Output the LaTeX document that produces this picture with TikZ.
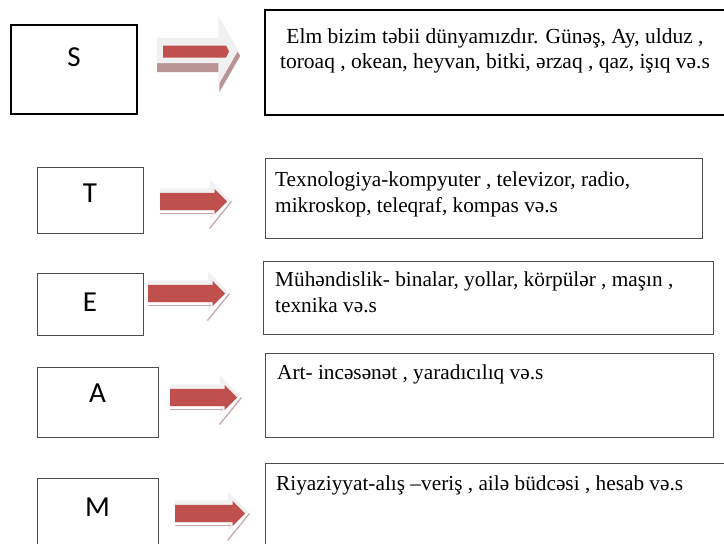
\documentclass[tikz,border=0pt]{standalone}
\usepackage{fontspec}
\setmainfont{Liberation Serif}
\newfontfamily\lblfont{Carlito}
\usetikzlibrary{shapes.arrows}
\definecolor{arrred}{HTML}{C0504D}
\definecolor{arrshade}{HTML}{B89494}
\definecolor{arrghost}{HTML}{F1F1F1}
\tikzset{
  lblbox/.style={rectangle, draw=black!70, line width=1pt, inner sep=0pt},
  lbltxt/.style={font=\lblfont\fontsize{29}{30}\selectfont, inner sep=0pt},
  txtbox/.style={rectangle, draw=black!70, line width=1pt, inner sep=0pt},
  bodytxt/.style={font=\fontsize{21.3}{25.5}\selectfont, align=left, inner sep=0pt, anchor=north west},
  redarr/.style={single arrow, fill=arrred, inner xsep=0pt, inner ysep=8.5pt,
    single arrow head extend=4pt, anchor=tail},
  ghostarr/.style={redarr, fill=arrghost, inner ysep=11pt, single arrow head extend=9pt},
  shadeline/.style={draw=arrshade!80, line width=1.3pt},
}

\begin{document}
\begin{tikzpicture}[x=1pt, y=-1pt]
  \useasboundingbox (0,0) rectangle (724,544);
  \clip (0,0) rectangle (724,544);
  % S row
  \node[lblbox, draw=black, line width=1.5pt, minimum width=126, minimum height=89] (sbox) at (74,69.5) {};
  \node[lbltxt] (slbl) at (74,57) {S};
  \node[txtbox, draw=black, line width=1.5pt, minimum width=470, minimum height=105] (stxt) at (500,62.5) {};
  \node[font=\fontsize{21.5}{25.5}\selectfont, align=center, inner sep=0pt, anchor=north] (stxtlbl) at (495,28)
    {Elm bizim təbii dünyamızdır. Günəş, Ay, ulduz ,\\toroaq , okean, heyvan, bitki, ərzaq , qaz, işıq və.s};
  \node[single arrow, fill=arrshade, inner xsep=0pt, inner ysep=16pt, single arrow head extend=20pt,
    single arrow tip angle=120, minimum height=83, anchor=tail] (sshade) at (157,56) {};
  \node[single arrow, fill=black!6, inner xsep=0pt, inner ysep=12.5pt, single arrow head extend=21.5pt,
    single arrow tip angle=120, minimum height=81, anchor=tail] (sarr) at (157,50.5) {};
  \fill[arrred] (163,45.5) -- (226,45.5) -- (229,51.5) -- (226,57.5) -- (163,57.5) -- cycle;
  % T E A M rows
  \node[lblbox, minimum width=106, minimum height=66] (tbox) at (90,200) {};
  \node[lbltxt] (tlbl) at (90,193) {T};
  \node[txtbox, minimum width=437, minimum height=80] (ttxt) at (483.5,198) {};
  \node[bodytxt] (ttxtlbl) at (275,172) {Texnologiya-kompyuter , televizor, radio,\\mikroskop, teleqraf, kompas və.s};
  \node[lblbox, minimum width=106, minimum height=62] (ebox) at (90,304) {};
  \node[lbltxt] (elbl) at (90,302) {E};
  \node[txtbox, minimum width=450, minimum height=73] (etxt) at (488,297.5) {};
  \node[bodytxt] (etxtlbl) at (275,272) {Mühəndislik- binalar, yollar, körpülər , maşın ,\\texnika və.s};
  \node[lblbox, minimum width=121, minimum height=70] (abox) at (97.5,402) {};
  \node[lbltxt] (albl) at (97.5,393) {A};
  \node[txtbox, minimum width=448, minimum height=84] (atxt) at (489,395) {};
  \node[bodytxt] (atxtlbl) at (277,365) {Art- incəsənət , yaradıcılıq və.s};
  \node[lblbox, minimum width=121, minimum height=82] (mbox) at (97.5,519) {};
  \node[lbltxt] (mlbl) at (97.5,507) {M};
  \node[txtbox, minimum width=475, minimum height=97] (mtxt) at (502.5,511.5) {};
  \node[bodytxt] (mtxtlbl) at (276,476) {Riyaziyyat-alış –veriş , ailə büdcəsi , hesab və.s};
  \foreach \n/\x/\y/\l in {t/160/201.5/67, e/148/293.5/77, a/170/397.5/67, m/175/513.5/70} {
    \node[ghostarr, minimum height=\l+3] (\n ghost) at (\x,\y-2) {};
    \node[redarr, minimum height=\l] (\n arr) at (\x,\y) {};
    \draw[shadeline] ([yshift=-12pt]\n arr.tail) -- ++(\l-14,0);
    \draw[shadeline] ([xshift=4pt]\n arr.tip) -- ++(-22,27);
  }
\end{tikzpicture}
\end{document}
